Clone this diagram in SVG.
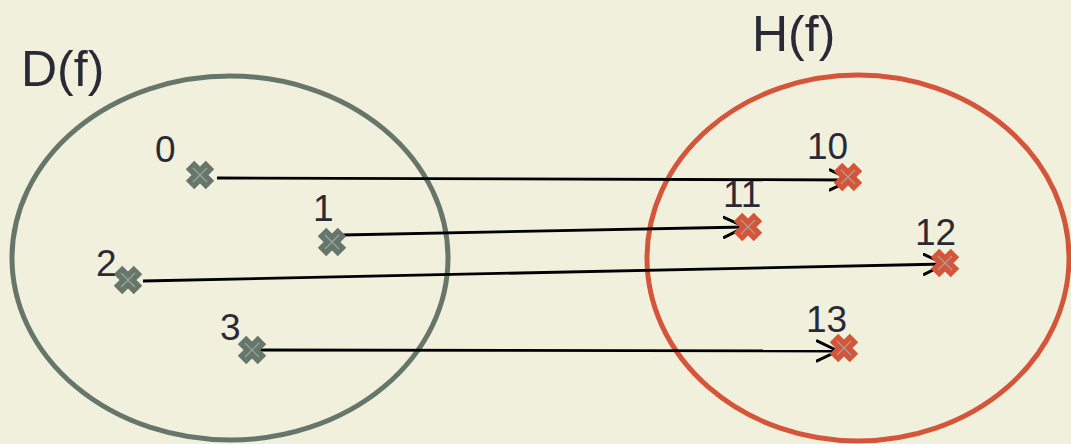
<svg xmlns="http://www.w3.org/2000/svg" width="1071" height="444" viewBox="0 0 1071 444">
<defs>
<style>
.lbl{font-family:"Liberation Sans",Arial,sans-serif;font-size:37px;fill:#2a2a36}
.ttl{font-family:"Liberation Sans",Arial,sans-serif;font-size:50px;fill:#2a2a36}
.conn{stroke:#000;stroke-width:2.8;fill:none;marker-end:url(#ah)}
.xg{stroke:#67766b;stroke-width:12}
.xr{stroke:#d5553a;stroke-width:12}
.xgi{stroke:#98a69b;stroke-width:1.2}
.xri{stroke:#a8a39a;stroke-width:1.2}
</style>
<marker id="ah" markerUnits="userSpaceOnUse" markerWidth="30" markerHeight="30" refX="22" refY="11" orient="auto" viewBox="0 0 30 22">
<path d="M1,1 L22,11 L1,21" fill="none" stroke="#000" stroke-width="3" stroke-linecap="round" stroke-linejoin="round"/>
</marker>
<g id="xgray"><path class="xg" d="M-10,-10 L10,10 M-10,10 L10,-10"/><path class="xgi" d="M-7,-7 L7,7 M-7,7 L7,-7"/></g>
<g id="xred"><path class="xr" d="M-10,-10 L10,10 M-10,10 L10,-10"/><path class="xri" d="M-7,-7 L7,7 M-7,7 L7,-7"/></g>
</defs>
<rect width="1071" height="444" fill="#f1f0dc"/>
<g id="domain">
<ellipse cx="230" cy="258" rx="218" ry="182" fill="none" stroke="#67766b" stroke-width="5"/>
<text class="ttl" x="21" y="86">D(f)</text>
</g>
<g id="codomain">
<ellipse cx="858" cy="258" rx="211" ry="183" fill="none" stroke="#d5553a" stroke-width="5"/>
<text class="ttl" x="752" y="51">H(f)</text>
</g>
<g id="connectors">
<path class="conn" d="M217,178 L851,180"/>
<path class="conn" d="M342,235 L745,227"/>
<path class="conn" d="M143,281 L945,264"/>
<path class="conn" d="M253,350 L838,351"/>
</g>
<g id="n0"><use href="#xgray" x="200" y="175"/><text class="lbl" x="155" y="162">0</text></g>
<g id="n1"><use href="#xgray" x="332" y="242"/><text class="lbl" x="313" y="221">1</text></g>
<g id="n2"><use href="#xgray" x="128" y="280"/><text class="lbl" x="96" y="276">2</text></g>
<g id="n3"><use href="#xgray" x="252" y="350"/><text class="lbl" x="220" y="340">3</text></g>
<g id="n10"><use href="#xred" x="848" y="177"/><text class="lbl" x="807" y="159">10</text></g>
<g id="n11"><use href="#xred" x="748" y="227"/><text class="lbl" x="723" y="207">11</text></g>
<g id="n12"><use href="#xred" x="945" y="263"/><text class="lbl" x="915" y="245">12</text></g>
<g id="n13"><use href="#xred" x="844" y="348"/><text class="lbl" x="806" y="332">13</text></g>
</svg>
